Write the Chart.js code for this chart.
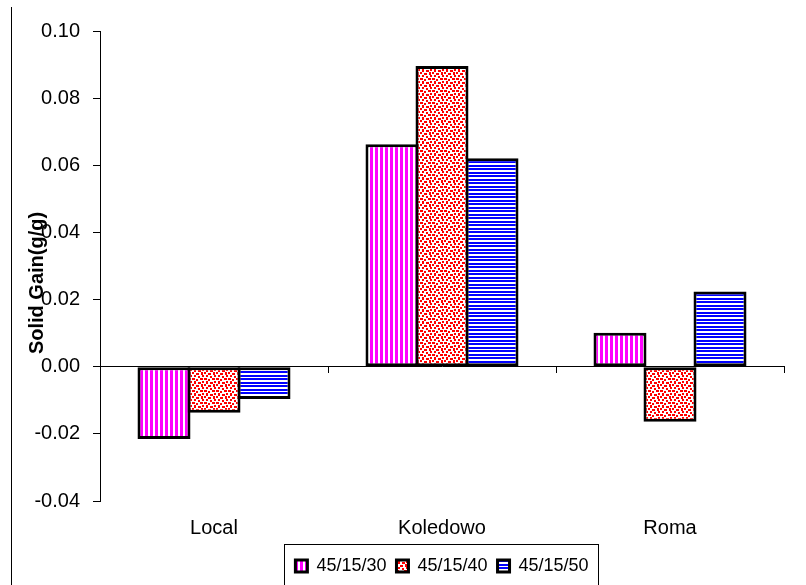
<!DOCTYPE html>
<html>
<head>
<meta charset="utf-8">
<script src="https://cdn.jsdelivr.net/npm/chart.js@4/dist/chart.umd.min.js"></script>
<style>
  html, body { margin: 0; padding: 0; background: #fff; }
  #wrap { width: 806px; height: 585px; }
</style>
</head>
<body>
<div id="wrap"><canvas id="gain"></canvas></div>
<script>
// data
var varieties = ["Local", "Koledowo", "Roma"];
var seriesNames = ["45/15/30", "45/15/40", "45/15/50"];
var gain30 = [-0.0215, 0.0663, 0.0101];
var gain40 = [-0.0137, 0.0896, -0.0164];
var gain50 = [-0.0096, 0.0621, 0.0224];
var yTicks = [-0.04, 0.1, 0.02]; // min, max, step
var yTitle = "Solid Gain(g/g)";

// fill patterns, like the old excel hatch fills
function makePattern(w, h, paint) {
  var c = document.createElement("canvas");
  c.width = w;
  c.height = h;
  var g = c.getContext("2d");
  g.fillStyle = "#fff";
  g.fillRect(0, 0, w, h);
  paint(g);
  return document.getElementById("gain").getContext("2d").createPattern(c, "repeat");
}
var magentaStripes = makePattern(5, 5, function (g) {
  g.fillStyle = "#ff00ff";
  g.fillRect(0, 0, 3, 5);
});
var blueLines = makePattern(7, 7, function (g) {
  g.fillStyle = "#0000ff";
  g.fillRect(0, 0, 7, 2);
  g.fillRect(0, 4, 7, 2);
});
var redDots = makePattern(12, 12, function (g) {
  g.fillStyle = "#ff0000";
  var dots = [
    [0, 0, 2, 2], [4, 1, 3, 2], [9, 0, 2, 3],
    [2, 3, 2, 2], [6, 4, 2, 2], [10, 3, 2, 2],
    [0, 6, 3, 2], [4, 7, 2, 2], [8, 6, 3, 2],
    [2, 9, 2, 3], [6, 10, 3, 2], [10, 9, 2, 2]
  ];
  dots.forEach(function (d) { g.fillRect(d[0], d[1], d[2], d[3]); });
});

var font = "'Liberation Sans', Arial, sans-serif";
Chart.defaults.color = "#000";
Chart.defaults.font.family = font;

// left frame line, y title, and the box round the legend
var framePlugin = {
  id: "frame",
  afterDraw: function (chart) {
    var ctx = chart.ctx;
    ctx.save();
    ctx.strokeStyle = "#000";
    ctx.lineWidth = 1;
    ctx.beginPath();
    ctx.moveTo(11.5, 7);
    ctx.lineTo(11.5, 585);
    ctx.stroke();

    ctx.save();
    ctx.translate(37, 283);
    ctx.rotate(-Math.PI / 2);
    ctx.font = "bold 20px " + font;
    ctx.fillStyle = "#000";
    ctx.textAlign = "center";
    ctx.textBaseline = "middle";
    ctx.fillText(yTitle, 0, 0);
    ctx.restore();

    var boxes = chart.legend.legendHitBoxes;
    if (boxes && boxes.length) {
      var first = boxes[0];
      var last = boxes[boxes.length - 1];
      var l = first.left - 11;
      var r = last.left + last.width + 10;
      var t = first.top - 13;
      ctx.strokeRect(Math.round(l) + 0.5, Math.round(t) + 0.5, Math.round(r - l), 60);
    }
    ctx.restore();
  },
};

new Chart(document.getElementById("gain"), {
  type: "bar",
  data: {
    labels: varieties,
    datasets: [
      { label: seriesNames[0], data: gain30, backgroundColor: magentaStripes },
      { label: seriesNames[1], data: gain40, backgroundColor: redDots },
      { label: seriesNames[2], data: gain50, backgroundColor: blueLines },
    ],
  },
  options: {
    responsive: true,
    maintainAspectRatio: false,
    animation: false,
    layout: { padding: { left: 0, right: 22, top: 31, bottom: 0 } },
    datasets: {
      bar: {
        borderColor: "#000",
        borderWidth: 3,
        borderSkipped: false,
        categoryPercentage: 0.658,
        barPercentage: 1.06,
      },
    },
    scales: {
      x: {
        position: { y: 0 },
        offset: true,
        ticks: { display: false },
        grid: { offset: true, drawOnChartArea: false, drawTicks: true, tickLength: 6, color: "#000" },
        border: { color: "#000", width: 1 },
      },
      x2: {
        type: "category",
        labels: varieties,
        position: "bottom",
        offset: true,
        grid: { display: false, drawTicks: false },
        border: { display: false },
        ticks: { font: { size: 20 }, padding: 15 },
        afterFit: function (scale) { scale.height = scale.height - 8; },
      },
      y: {
        min: yTicks[0],
        max: yTicks[1],
        ticks: {
          stepSize: yTicks[2],
          font: { size: 20 },
          padding: 13,
          callback: function (v) { return v.toFixed(2); },
        },
        grid: { drawOnChartArea: false, tickLength: 7, color: "#000" },
        border: { color: "#000", width: 1 },
        afterFit: function (scale) { scale.width = 100; },
      },
    },
    plugins: {
      legend: {
        position: "bottom",
        fullSize: false,
        labels: { boxWidth: 12, boxHeight: 12, padding: 10, font: { size: 18 } },
      },
      tooltip: { enabled: false },
    },
  },
  plugins: [framePlugin],
});
</script>
</body>
</html>
